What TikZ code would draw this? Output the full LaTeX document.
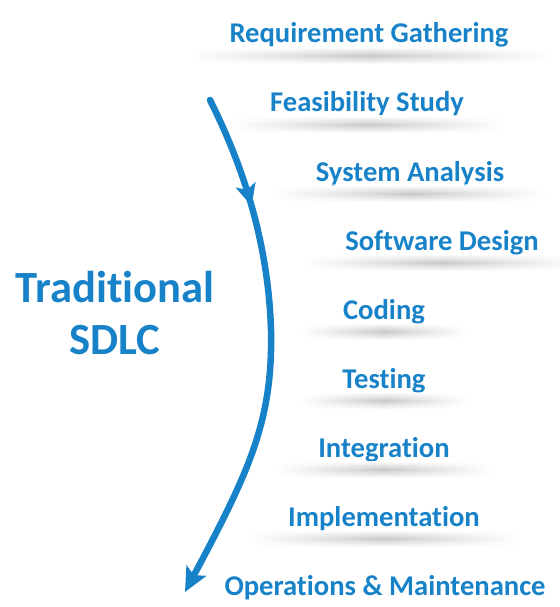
\documentclass[tikz,border=0pt]{standalone}
\usepackage{fontspec}
\setmainfont{Carlito}[Ligatures=CommonOff]
\usetikzlibrary{arrows.meta,decorations.markings,fadings,calc}
\definecolor{sdlcblue}{RGB}{24,130,200}
\definecolor{shadowgray}{RGB}{200,200,200}
\tikzfading[name=fade sides, left color=transparent!100, right color=transparent!100,
            middle color=transparent!0]
\tikzset{
  phase/.style={anchor=base, text=sdlcblue, inner sep=0pt,
                font=\bfseries\fontsize{28.6}{30}\selectfont},
  title/.style={text=sdlcblue, align=center, inner sep=0pt,
                font=\bfseries\fontsize{44.6}{52}\selectfont},
  band/.style={top color=white, bottom color=white, middle color=shadowgray,
               path fading=fade sides},
  flow/.style={draw=sdlcblue, line width=6.5pt, line cap=round,
               -{Stealth[length=24pt, width=22pt, inset=5pt]},
               postaction={decorate},
               decoration={markings, mark=at position 0.22 with
                 {\arrow[sdlcblue]{Stealth[length=22pt, width=20pt, inset=5pt]}}}},
}

\begin{document}
\begin{tikzpicture}[x=1pt, y=-1pt]
  \useasboundingbox (0,0) rectangle (559,607);

  % phases, top to bottom
  \node[phase] (req)     at (369,43)  {Requirement Gathering};
  \node[phase] (feas)    at (367,112) {Feasibility Study};
  \node[phase] (sysana)  at (410,181) {System Analysis};
  \node[phase] (swdes)   at (442,250) {Software Design};
  \node[phase] (coding)  at (384,319) {Coding};
  \node[phase] (testing) at (384,388) {Testing};
  \node[phase] (integ)   at (384,457) {Integration};
  \node[phase] (impl)    at (384,526) {Implementation};
  \node[phase] (ops)     at (385,595) {Operations \& Maintenance};

  % soft shadow under each phase
  \foreach \n in {req,feas,sysana,swdes,coding,testing,integ,impl}
    \shade[band] ($(\n.base west)+(-42,4)$) rectangle ($(\n.base east)+(42,21)$);

  \node[title] (sdlc) at (115,313) {Traditional\\SDLC};

  % the flow arc
  \coordinate (top) at (210,100);
  \coordinate (mid) at (271,330);
  \coordinate (bot) at (185,592);
  \draw[flow] (top) .. controls (235,150) and (268,230) .. (mid)
                    .. controls (273,420) and (250,470) .. (bot);
\end{tikzpicture}
\end{document}
